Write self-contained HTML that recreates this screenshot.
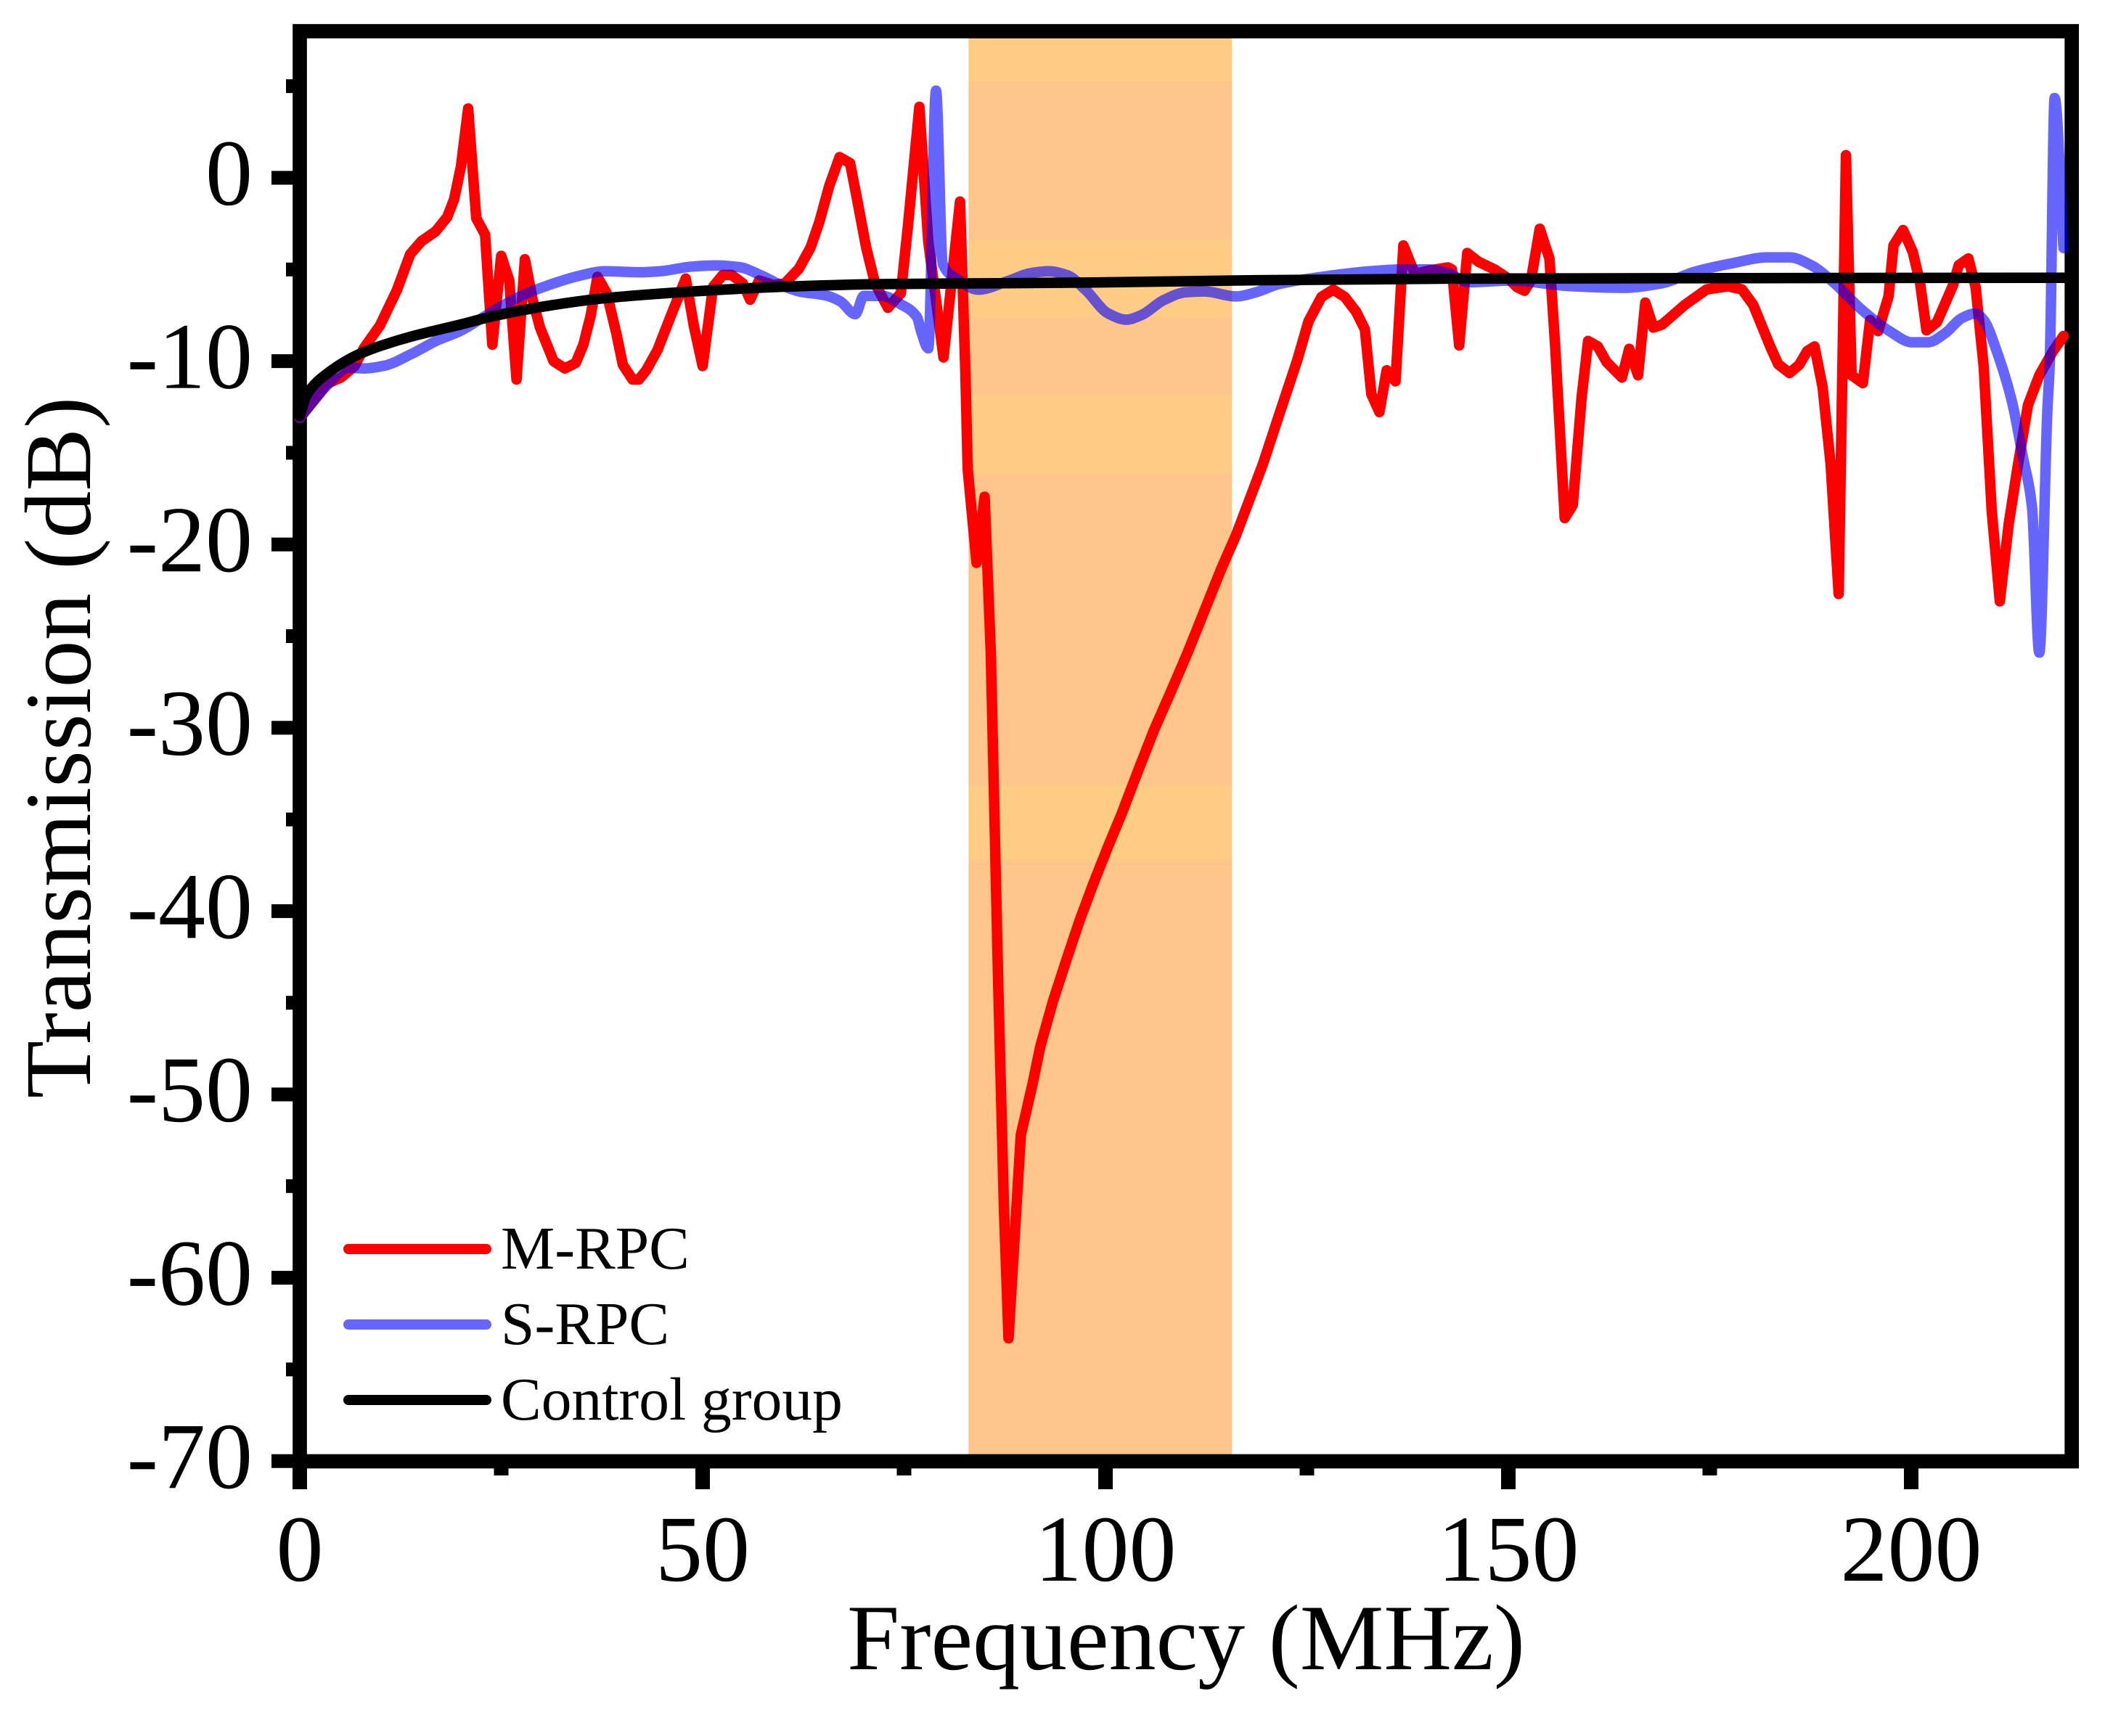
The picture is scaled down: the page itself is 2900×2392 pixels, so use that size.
<!DOCTYPE html>
<html>
<head>
<meta charset="utf-8">
<title>Transmission vs Frequency</title>
<style>
  html,body{margin:0;padding:0;background:#fff;}
  svg{display:block;}
  text{font-family:"Liberation Serif",serif;fill:#000;}
</style>
</head>
<body>
<svg id="chart" xmlns="http://www.w3.org/2000/svg" width="2900" height="2392" viewBox="0 0 2900 2392">
  <defs>
    <linearGradient id="bandFill" gradientUnits="userSpaceOnUse" x1="0" y1="52" x2="0" y2="2004">
      <stop offset="0" stop-color="#FFCC85"/><stop offset="0.03125" stop-color="#FFCC85"/>
      <stop offset="0.03125" stop-color="#FFC58A"/><stop offset="0.1424" stop-color="#FFC58A"/>
      <stop offset="0.1424" stop-color="#FFCC85"/><stop offset="0.1977" stop-color="#FFCC85"/>
      <stop offset="0.1977" stop-color="#FFC58A"/><stop offset="0.2526" stop-color="#FFC58A"/>
      <stop offset="0.2526" stop-color="#FFCC85"/><stop offset="0.3079" stop-color="#FFCC85"/>
      <stop offset="0.3079" stop-color="#FFC58A"/><stop offset="0.5277" stop-color="#FFC58A"/>
      <stop offset="0.5277" stop-color="#FFCC85"/><stop offset="0.5809" stop-color="#FFCC85"/>
      <stop offset="0.5809" stop-color="#FFC58A"/><stop offset="1" stop-color="#FFC58A"/>
    </linearGradient>
  </defs>
  <rect x="0" y="0" width="2900" height="2392" fill="#fff"/>
  <g id="bandLayer"></g>
  <g id="axisLayer"></g>
  <g id="seriesLayer"></g>

  <text x="1167" y="2300" font-size="129" textLength="934" lengthAdjust="spacingAndGlyphs">Frequency (MHz)</text>
  <text transform="translate(124,1030) rotate(-90)" text-anchor="middle" font-size="130">Transmission (dB)</text>

  <g>
    <line x1="480" y1="1721" x2="670" y2="1721" stroke="#FF0000" stroke-width="14" stroke-linecap="round"/>
    <text x="690" y="1748" font-size="83.5">M-RPC</text>
    <line x1="480" y1="1825" x2="670" y2="1825" stroke="#6666FF" stroke-width="14" stroke-linecap="round"/>
    <text x="690" y="1852" font-size="83.5">S-RPC</text>
    <line x1="480" y1="1929" x2="670" y2="1929" stroke="#000" stroke-width="14" stroke-linecap="round"/>
    <text x="690" y="1956" font-size="83.5">Control group</text>
  </g>
</svg>
<script>
var xMajorTicks = [0, 50, 100, 150, 200];
var xMinorTicks = [25, 75, 125, 175];
var yMajorTicks = [0, -10, -20, -30, -40, -50, -60, -70];
var yMinorTicks = [5, -5, -15, -25, -35, -45, -55, -65];
var bandRange = [83, 115.7];

var redFreq = [0,3.35,5.1,6.8,7.95,9.95,12.05,13.7,15.1,16.85,18.3,19.15,20,20.9,21.9,23,23.9,25,26,26.9,27.94,28.9,29.8,31.5,32.9,34.25,35.2,36.1,36.95,38.1,39.3,40.1,41.3,42.1,43,44.4,45.9,47.9,48.9,50,51.3,52.5,53.6,55,55.9,57,58.8,60.2,61.95,63.4,64.5,65.7,67,68.3,69.1,70.3,71.4,73,74.6,75.5,76.9,78,79.9,81.95,82.6,82.9,84,85,85.77,86.67,87.4,87.96,89.5,90.96,91.9,93.5,95.2,96.8,98.5,100.3,102,104,106,108.1,110.2,112.3,114.4,116.2,119.55,121.5,123.8,125.2,126.8,128.26,129.7,131.1,132.2,133,134,134.9,136,136.97,138.4,140.1,142.5,143,143.9,144.9,146.3,148.3,150,151.1,152,152.8,153.9,155.1,155.8,157,158,159.1,159.9,161.1,162.2,164.1,165,166.1,167,168,169.1,171.9,174.6,177.3,179,180.4,182.5,183.5,184.9,186.1,187.1,188,189,190,191,191.9,192.6,194,194.9,195.9,197.2,197.8,199,200.2,201.1,201.9,203.2,205.2,205.9,207.1,208,209,210,211,212.1,213.2,214.5,215.9,217.6,218.9];
var redValues = [-13.1,-11.24,-10.9,-10.27,-9.3,-8.06,-6.13,-4.17,-3.46,-2.93,-2.14,-1.17,0.6,3.78,-2.2,-3.1,-9.1,-4.26,-5.6,-11,-4.44,-6.65,-8.15,-10,-10.4,-10.1,-9.1,-7.53,-5.4,-6.3,-8.5,-10.2,-11,-11,-10.5,-9.4,-7.7,-5.5,-8.06,-10.27,-5.94,-5.3,-5.3,-5.76,-6.65,-5.6,-5.85,-5.76,-4.96,-3.8,-2.4,-0.46,1.13,0.8,-1,-3.8,-5.76,-7.09,-6.3,-2.57,3.87,-3.46,-9.8,-1.3,-10.5,-15.9,-21,-17.4,-25.9,-43.6,-56.2,-63.3,-52.2,-49.4,-47.4,-44.9,-42.6,-40.5,-38.5,-36.5,-34.7,-32.4,-30.15,-28.05,-25.9,-23.6,-21.3,-19.5,-15.6,-13,-9.95,-7.83,-6.5,-6.1,-6.5,-7.3,-8.27,-11.8,-12.78,-10.5,-11.1,-3.69,-5.25,-5.06,-4.89,-5,-9.14,-4.1,-4.58,-5,-5.49,-5.97,-6.16,-5.6,-2.78,-4.4,-9.09,-18.56,-17.85,-11.96,-8.9,-9.2,-10.05,-10.89,-9.33,-10.77,-6.81,-8.17,-8,-6.93,-6.09,-5.92,-6.09,-6.93,-9.2,-10.17,-10.65,-10.2,-9.45,-9.2,-11.4,-15.6,-22.7,1.23,-10.77,-11.2,-7.76,-8.36,-6.45,-3.69,-2.85,-4.05,-5.72,-8.32,-7.88,-5.85,-4.77,-4.4,-5.97,-10.3,-18.2,-23.1,-18.9,-15.8,-12.4,-10.77,-9.45,-8.63];

var blueFreq = [0,1.5,3.33,6,8,10.5,13.9,17.1,19.8,23.4,26.9,30.9,34.9,37.8,42.4,44.7,48.7,51.6,54.5,57.4,59.7,62,65.4,67.1,68.95,70,72.3,74.6,76.6,77.2,78,78.96,79.8,81.5,84.2,87.9,90.7,93,95.3,97.6,100.3,102.6,104.5,107.2,110,112.3,116.2,118.7,121.5,126.1,133,137,140.1,142.8,145,150.4,157.3,164.2,169.1,173.1,177.9,182.1,184.9,187.6,190.4,193.8,197.3,200.1,202.1,204.2,206.3,208,209,210.7,212.5,213.8,215,215.9,216.9,217.2,217.8,218.9];
var blueValues = [-13.1,-12.3,-11.35,-10.37,-10.4,-10.25,-9.6,-8.86,-8.38,-7.44,-6.56,-5.85,-5.32,-5.1,-5.15,-5.1,-4.84,-4.78,-4.87,-5.35,-5.85,-6.2,-6.43,-6.74,-7.44,-6.44,-6.44,-6.9,-7.6,-8.5,-9.3,4.75,-4.7,-5.5,-6.1,-5.63,-5.2,-5.1,-5.32,-6.15,-7.39,-7.74,-7.48,-6.68,-6.24,-6.2,-6.47,-6.24,-5.8,-5.45,-5.09,-5,-5,-5.25,-5.7,-5.6,-5.9,-6,-5.75,-5.13,-4.65,-4.34,-4.34,-4.77,-5.72,-7.17,-8.36,-8.97,-8.97,-8.48,-7.65,-7.4,-7.76,-9.57,-12.2,-15.1,-18,-25.9,-12.7,-10.1,4.35,-3.83];

var controlFreq = [0,0.8,2,3.33,5.5,7.84,10.5,13.9,19.8,24,29.2,37.2,48.7,60.2,71.7,87,98.5,116,143,180,219];
var controlValues = [-13,-11.9,-11.2,-10.7,-10.05,-9.53,-9.1,-8.65,-8.02,-7.55,-7.1,-6.6,-6.2,-5.94,-5.8,-5.75,-5.71,-5.6,-5.5,-5.47,-5.45];

function xScale(f){ return 413 + f * 11.1; }
function yScale(v){ return 245 - v * 25.26; }

var NS = 'http://www.w3.org/2000/svg';
var bandLayer = document.getElementById('bandLayer');
var axisLayer = document.getElementById('axisLayer');
var seriesLayer = document.getElementById('seriesLayer');

function rect(parent, x, y, w, h, fill){
  var r = document.createElementNS(NS, 'rect');
  r.setAttribute('x', x);
  r.setAttribute('y', y);
  r.setAttribute('width', w);
  r.setAttribute('height', h);
  r.setAttribute('fill', fill);
  parent.appendChild(r);
  return r;
}
function label(parent, x, y, anchor, str){
  var t = document.createElementNS(NS, 'text');
  t.setAttribute('x', x);
  t.setAttribute('y', y);
  t.setAttribute('text-anchor', anchor);
  t.setAttribute('font-size', '130');
  t.textContent = str;
  parent.appendChild(t);
  return t;
}
function polylineD(xs, ys){
  var d = '';
  for (var i = 0; i < xs.length; i++) {
    d += (i ? 'L' : 'M') + xs[i].toFixed(1) + ' ' + ys[i].toFixed(1);
  }
  return d;
}
function monotoneD(xs, ys){
  var n = xs.length, slopes = [], tangents = [], i;
  for (i = 0; i < n - 1; i++) slopes.push((ys[i + 1] - ys[i]) / (xs[i + 1] - xs[i]));
  tangents.push(slopes[0]);
  for (i = 1; i < n - 1; i++) {
    if (slopes[i - 1] * slopes[i] <= 0) { tangents.push(0); }
    else {
      var w1 = 2 * (xs[i + 1] - xs[i]) + (xs[i] - xs[i - 1]);
      var w2 = (xs[i + 1] - xs[i]) + 2 * (xs[i] - xs[i - 1]);
      tangents.push((w1 + w2) / (w1 / slopes[i - 1] + w2 / slopes[i]));
    }
  }
  tangents.push(slopes[n - 2]);
  var d = 'M' + xs[0].toFixed(1) + ' ' + ys[0].toFixed(1);
  for (i = 0; i < n - 1; i++) {
    var h = (xs[i + 1] - xs[i]) / 3;
    d += 'C' + (xs[i] + h).toFixed(1) + ' ' + (ys[i] + tangents[i] * h).toFixed(1) + ' ' +
         (xs[i + 1] - h).toFixed(1) + ' ' + (ys[i + 1] - tangents[i + 1] * h).toFixed(1) + ' ' +
         xs[i + 1].toFixed(1) + ' ' + ys[i + 1].toFixed(1);
  }
  return d;
}
function seriesPath(freq, values, color, opacity, smooth){
  var xs = freq.map(xScale);
  var ys = values.map(yScale);
  var p = document.createElementNS(NS, 'path');
  p.setAttribute('d', smooth ? monotoneD(xs, ys) : polylineD(xs, ys));
  p.setAttribute('fill', 'none');
  p.setAttribute('stroke', color);
  p.setAttribute('stroke-opacity', opacity);
  p.setAttribute('stroke-width', '14.5');
  p.setAttribute('stroke-linejoin', 'round');
  p.setAttribute('stroke-linecap', 'round');
  seriesLayer.appendChild(p);
  return p;
}

var band = rect(bandLayer, xScale(bandRange[0]), 52, xScale(bandRange[1]) - xScale(bandRange[0]), 1952, 'url(#bandFill)');



var frame = document.createElementNS(NS, 'rect');
frame.setAttribute('x', 413);
frame.setAttribute('y', 43);
frame.setAttribute('width', 2441.2);
frame.setAttribute('height', 1970.5);
frame.setAttribute('fill', 'none');
frame.setAttribute('stroke', '#000');
frame.setAttribute('stroke-width', '19.7');


axisLayer.appendChild(frame);

xMajorTicks.forEach(function(f){
  var tick = rect(axisLayer, xScale(f) - 10, 2023, 20, 29, '#000');
  
  
  var tl = label(axisLayer, xScale(f), 2178, 'middle', String(f));
  
  
});
xMinorTicks.forEach(function(f){
  var tick = rect(axisLayer, xScale(f) - 10, 2023, 20, 10, '#000');
  
  
});
yMajorTicks.forEach(function(v){
  var tick = rect(axisLayer, 374, yScale(v) - 9.5, 30, 19, '#000');
  
  
  var tl = label(axisLayer, 348, yScale(v) + 37, 'end', String(v));
  
  
});
yMinorTicks.forEach(function(v){
  var tick = rect(axisLayer, 394, yScale(v) - 9.5, 10, 19, '#000');
  
  
});

var redLine = seriesPath(redFreq, redValues, '#FF0000', 1, false);


var blueLine = seriesPath(blueFreq, blueValues, '#0000FF', 0.6, true);


var blackLine = seriesPath(controlFreq, controlValues, '#000000', 1, true);


</script>
</body>
</html>
